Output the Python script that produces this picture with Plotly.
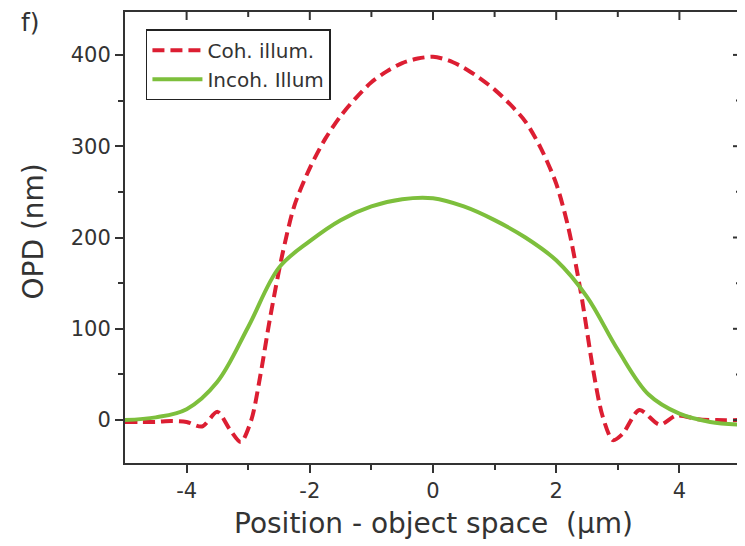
import plotly.graph_objects as go

# Coherent illumination (red dashed)
coh_x = [-5.0, -4.75, -4.5, -4.25, -4.0, -3.75, -3.5, -3.3, -3.12, -2.95, -2.8, -2.65, -2.45,
         -2.25, -2.0, -1.75, -1.5, -1.25, -1.0, -0.75, -0.5, -0.25, 0.0, 0.25, 0.5, 0.75,
         1.0, 1.25, 1.5, 1.75, 2.0, 2.2, 2.4, 2.6, 2.75, 2.92, 3.08, 3.35, 3.68, 3.95,
         4.3, 4.6, 5.0]
coh_y = [-2, -2, -2, -1, -2, -7, 9, -10, -24, 0, 50, 110, 180,
         235, 276, 308, 333, 353, 370, 382, 391, 396, 398, 394, 386, 375,
         362, 346, 327, 298, 259, 210, 140, 55, 5, -22, -15, 11, -5, 5,
         1, 0, 0]

# Incoherent illumination (green solid)
inc_x = [-5.0, -4.5, -4.0, -3.5, -3.0, -2.5, -2.0, -1.5, -1.0, -0.5, 0.0, 0.5,
         1.0, 1.5, 2.0, 2.5, 3.0, 3.5, 4.0, 4.5, 5.0]
inc_y = [0, 3, 12, 42, 102, 167, 196, 219, 234, 242, 243, 234,
         219, 200, 175, 135, 77, 28, 7, -2, -5]

x_ticks = [-4, -2, 0, 2, 4]
x_minor = [-3, -1, 1, 3]
y_ticks = [0, 100, 200, 300, 400]
y_minor = [50, 150, 250, 350]

FONT = "DejaVu Sans, Liberation Sans, Arial, sans-serif"
AX = "#333333"
TXT = "#333333"

# plot area size in px (used to convert tick lengths to paper fractions)
W, H = 737, 538
ML, MR, MT, MB = 117, 4, 4, 83
PW, PH = W - ML - MR, H - MT - MB

fig = go.Figure()
fig.add_trace(go.Scatter(x=coh_x, y=coh_y, mode="lines", name="Coh. illum.",
                         line=dict(color="#dc1e32", width=4, dash="12px,6px",
                                   shape="spline", smoothing=0.8)))
fig.add_trace(go.Scatter(x=inc_x, y=inc_y, mode="lines", name="Incoh. Illum",
                         line=dict(color="#7dbf3c", width=4, shape="spline", smoothing=1.0)))

base = dict(showline=True, linewidth=2, linecolor=AX, showgrid=False, zeroline=False,
            tickwidth=2, tickcolor=AX, automargin=False, mirror=True)

# inward ticks on the mirrored top and right frame lines
shapes = []
for v, ln in [(t, 8) for t in x_ticks] + [(t, 5) for t in x_minor]:
    shapes.append(dict(type="line", xref="x", yref="paper", x0=v, x1=v,
                       y0=1, y1=1 - ln / PH, line=dict(color=AX, width=2), layer="above"))
for v, ln in [(t, 8) for t in y_ticks] + [(t, 5) for t in y_minor]:
    shapes.append(dict(type="line", xref="paper", yref="y", x0=1, x1=1 - ln / PW,
                       y0=v, y1=v, line=dict(color=AX, width=2), layer="above"))

fig.update_layout(
    # the page body has an 8px margin, so the figure is 8px smaller each way
    width=W, height=H,
    margin=dict(l=ML, r=MR, t=MT, b=MB),
    plot_bgcolor="white", paper_bgcolor="white",
    font=dict(family=FONT, color=TXT, size=20),
    xaxis=dict(range=[-5, 5], tickvals=x_ticks, ticktext=[str(v) for v in x_ticks],
               ticks="outside", ticklen=8,
               tickfont=dict(size=21, color=TXT),
               minor=dict(ticks="outside", ticklen=5, tickvals=x_minor, tickwidth=2,
                          tickcolor=AX),
               **base),
    yaxis=dict(range=[-47, 447], tickvals=y_ticks, ticktext=[str(v) for v in y_ticks],
               ticks="outside", ticklen=8,
               tickfont=dict(size=21, color=TXT),
               minor=dict(ticks="outside", ticklen=5, tickvals=y_minor, tickwidth=2,
                          tickcolor=AX),
               **base),
    shapes=shapes,
    legend=dict(x=0.034, y=0.962, xanchor="left", yanchor="top",
                bordercolor="#222222", borderwidth=1.5, bgcolor="white",
                font=dict(size=20, color=TXT), tracegroupgap=0, itemwidth=50),
    annotations=[
        dict(text="Position - object space  (µm)", xref="paper", yref="paper", x=0.5, y=0,
             xanchor="center", yanchor="middle", yshift=-60, showarrow=False,
             font=dict(size=28, color=TXT)),
        dict(text="OPD (nm)", xref="paper", yref="paper", x=0, y=0.5, textangle=-90,
             xanchor="center", yanchor="middle", xshift=-92, yshift=6, showarrow=False,
             font=dict(size=28, color=TXT)),
        dict(text="f)", xref="paper", yref="paper", x=0, y=1, xanchor="center",
             yanchor="middle", xshift=-95, yshift=-10, showarrow=False,
             font=dict(size=25, color=TXT)),
    ],
)

fig.write_html("out.html")
